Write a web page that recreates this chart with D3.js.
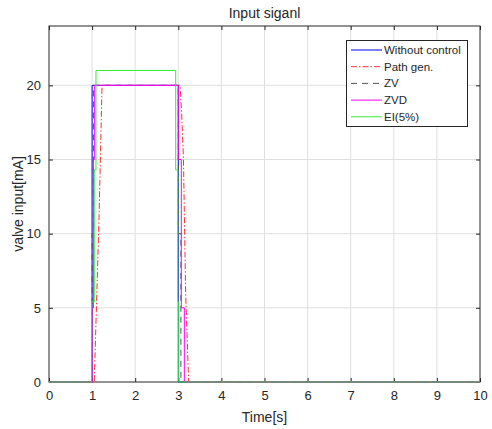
<!DOCTYPE html>
<html>
<head>
<meta charset="utf-8">
<script src="https://cdn.jsdelivr.net/npm/d3@7"></script>
<style>
  body { margin: 0; background: #fff; }
  text { font-family: "Liberation Sans", Arial, sans-serif; fill: #262626; }
</style>
</head>
<body>
<div id="chart"></div>
<script>
// data (step signals, time in s, value in mA)
const timeWithout = [0, 1.0, 1.0, 3.0, 3.0, 10];
const valWithout  = [0, 0, 20, 20, 0, 0];

const timePath = [0, 1.05, 1.08, 1.12, 1.16, 1.2, 1.23, 3.04, 3.08, 3.12, 3.17, 3.24, 10];
const valPath  = [0, 0, 3, 7, 11, 16, 20, 20, 18, 15, 6, 0, 0];

const timeZV = [0, 1.0, 1.0, 1.03, 1.03, 3.0, 3.0, 3.06, 3.06, 10];
const valZV  = [0, 0, 10, 10, 20, 20, 10, 10, 0, 0];

const timeZVD = [0, 1.0, 1.0, 1.03, 1.03, 1.06, 1.06, 3.0, 3.0, 3.07, 3.07, 3.14, 3.14, 10];
const valZVD  = [0, 0, 5, 5, 15, 15, 20, 20, 15, 15, 5, 5, 0, 0];

const timeEI = [0, 0.99, 0.99, 1.05, 1.05, 1.09, 1.09, 2.94, 2.94, 2.99, 2.99, 3.01, 3.01, 10];
const valEI  = [0, 0, 5.4, 5.4, 14.3, 14.3, 21, 21, 14.3, 14.3, 5.4, 5.4, 0, 0];

const xTicks = [0, 1, 2, 3, 4, 5, 6, 7, 8, 9, 10];
const yTicks = [0, 5, 10, 15, 20];

const seriesNames = ["Without control", "Path gen.", "ZV", "ZVD", "EI(5%)"];
const seriesTimes = [timeWithout, timePath, timeZV, timeZVD, timeEI];
const seriesVals  = [valWithout, valPath, valZV, valZVD, valEI];
const seriesColors = ["#0000ff", "#ff3030", "#555555", "#ff00ff", "#33ee33"];
const seriesDash = [null, "6,2,1.5,2", "6,5", null, null];

const width = 492, height = 429;
const margin = {top: 26, right: 12, bottom: 47, left: 49};
const plotW = width - margin.left - margin.right,
      plotH = height - margin.top - margin.bottom;

const svg = d3.select("#chart")
  .append("svg")
  .attr("width", width)
  .attr("height", height);

const x = d3.scaleLinear().domain([0, 10]).range([margin.left, margin.left + plotW]);
const y = d3.scaleLinear().domain([0, 24]).range([margin.top + plotH, margin.top]);

// grid
svg.append("g")
  .selectAll("line")
  .data(xTicks.slice(1, -1))
  .enter().append("line")
  .attr("x1", d => x(d)).attr("x2", d => x(d))
  .attr("y1", y(0)).attr("y2", y(24))
  .attr("stroke", "#dfdfdf").attr("stroke-width", 1);

svg.append("g")
  .selectAll("line")
  .data(yTicks.slice(1))
  .enter().append("line")
  .attr("x1", x(0)).attr("x2", x(10))
  .attr("y1", d => y(d)).attr("y2", d => y(d))
  .attr("stroke", "#dfdfdf").attr("stroke-width", 1);

// axes (ticks inside, MATLAB style)
const axisStyle = g => {
  g.select(".domain").remove();
  g.selectAll(".tick line").attr("stroke", "#262626");
  g.selectAll(".tick text").style("font-size", "13px").attr("fill", "#262626");
};

svg.append("g")
  .attr("transform", "translate(0," + y(0) + ")")
  .call(d3.axisBottom(x).tickValues(xTicks).tickSizeInner(-4).tickSizeOuter(0).tickPadding(9))
  .call(axisStyle);

svg.append("g")
  .attr("transform", "translate(0," + y(24) + ")")
  .call(d3.axisTop(x).tickValues(xTicks).tickSizeInner(-4).tickSizeOuter(0).tickFormat(""))
  .call(axisStyle);

svg.append("g")
  .attr("transform", "translate(" + x(0) + ",0)")
  .call(d3.axisLeft(y).tickValues(yTicks).tickSizeInner(-4).tickSizeOuter(0).tickPadding(8))
  .call(axisStyle);

svg.append("g")
  .attr("transform", "translate(" + x(10) + ",0)")
  .call(d3.axisRight(y).tickValues(yTicks).tickSizeInner(-4).tickSizeOuter(0).tickFormat(""))
  .call(axisStyle);

// box
svg.append("rect")
  .attr("x", x(0)).attr("y", y(24))
  .attr("width", x(10) - x(0)).attr("height", y(0) - y(24))
  .attr("fill", "none").attr("stroke", "#262626").attr("stroke-width", 1);

// clip
svg.append("clipPath").attr("id", "clip")
  .append("rect")
  .attr("x", x(0) - 1).attr("y", y(24))
  .attr("width", x(10) - x(0) + 2).attr("height", y(0) - y(24) + 1);

const line = d3.line()
  .x(d => x(d[0]))
  .y(d => y(d[1]));

const lines = svg.append("g").attr("clip-path", "url(#clip)");
seriesNames.forEach((name, i) => {
  const pts = seriesTimes[i].map((t, j) => [t, seriesVals[i][j]]);
  lines.append("path")
    .datum(pts)
    .attr("d", line)
    .attr("fill", "none")
    .attr("stroke", seriesColors[i])
    .attr("stroke-width", 1)
    .attr("stroke-dasharray", seriesDash[i]);
});

// title & labels
svg.append("text")
  .attr("x", (x(0) + x(10)) / 2).attr("y", 18)
  .attr("text-anchor", "middle")
  .style("font-size", "14px")
  .text("Input siganl");

svg.append("text")
  .attr("x", (x(0) + x(10)) / 2).attr("y", 422)
  .attr("text-anchor", "middle")
  .style("font-size", "14px")
  .text("Time[s]");

svg.append("text")
  .attr("transform", "translate(23," + ((y(0) + y(24)) / 2) + ") rotate(-90)")
  .attr("text-anchor", "middle")
  .style("font-size", "14px")
  .text("valve input[mA]");

// legend
const legend = svg.append("g");
legend.append("rect")
  .attr("x", 346.5).attr("y", 40.5)
  .attr("width", 121).attr("height", 86)
  .attr("fill", "#fff").attr("stroke", "#262626").attr("stroke-width", 1);

seriesNames.forEach((name, i) => {
  const ly = 50 + i * 16.7;
  legend.append("line")
    .attr("x1", 351).attr("x2", 382)
    .attr("y1", ly).attr("y2", ly)
    .attr("stroke", seriesColors[i])
    .attr("stroke-width", 1)
    .attr("stroke-dasharray", seriesDash[i]);
  legend.append("text")
    .attr("x", 384).attr("y", ly + 4)
    .style("font-size", "11.5px")
    .attr("fill", "#000")
    .text(name);
});
</script>
</body>
</html>
